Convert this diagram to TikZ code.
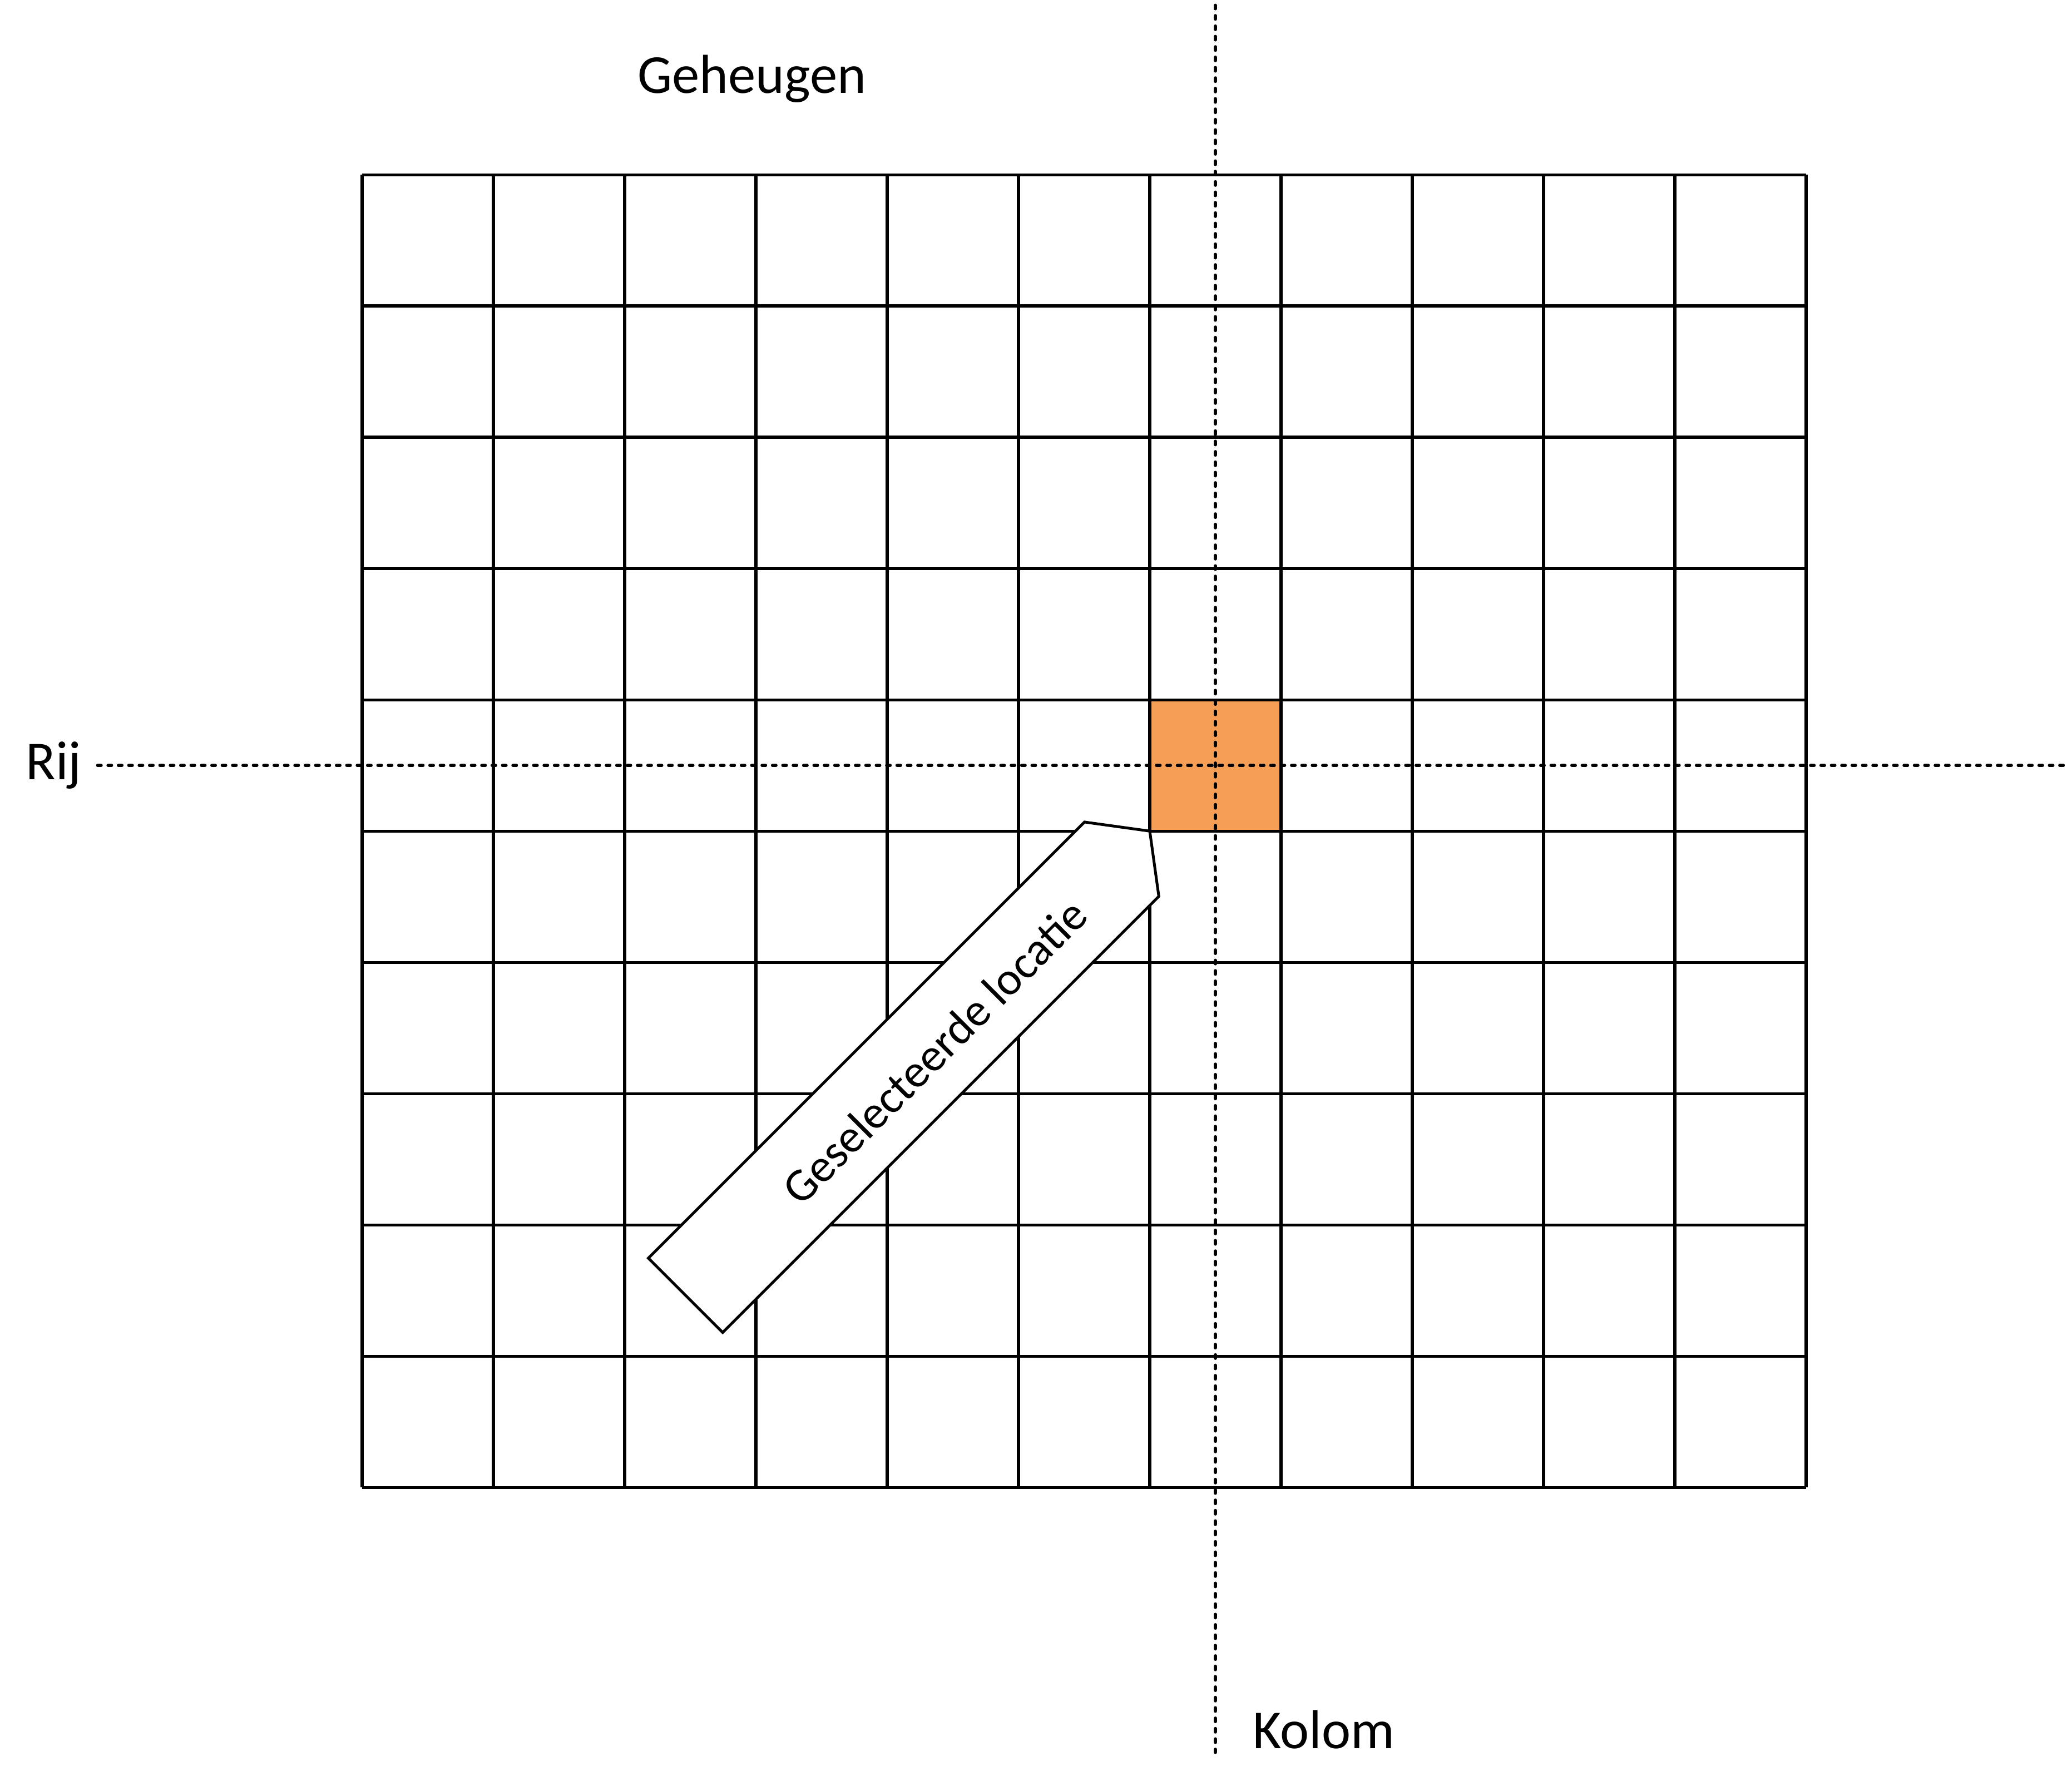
\documentclass[tikz,border=0pt]{standalone}
\usepackage{fontspec}
\setmainfont{Carlito}
\definecolor{selorange}{RGB}{245,158,86}
\tikzset{
	gridline/.style={line width=0.65pt},
	dotline/.style={line width=0.75pt, line cap=round, dash pattern=on 0.7pt off 1.55pt},
	lbl/.style={font=\fontsize{11.9}{14}\selectfont},
	pointer/.style={line width=0.6pt, fill=white, line join=miter}
}
\begin{document}
\begin{tikzpicture}
			\useasboundingbox (-2.758,-2.309) rectangle (13.025,11.331);

			% memory grid
			\fill[selorange] (6,5) rectangle (7,6);
			\draw[gridline] (0,0) grid (11,10);
			\node[lbl, anchor=base] (geheugen) at (2.97,10.62) {Geheugen}; %title

			% row line
			\node[lbl, anchor=east] (rij) at (-2.013,5.5) {Rij}; %label
			\coordinate (rijend) at (12.96,5.5);
			\draw[dotline] (rij.east) -- (rijend);

			% column line
			\coordinate (kolomtop) at (6.5,11.29);
			\coordinate (kolombot) at (6.5,-2.017);
			\draw[dotline] (kolomtop) -- (kolombot);
			\node[lbl, anchor=base west] (kolom) at (6.66,-1.99) {Kolom}; %label

			% pointer to selected cell
			\draw[pointer] (2.181,1.747) --
						(5.503,5.069) --
						(6.0,5.0) --
						(6.069,4.503) --
						(2.747,1.181) -- cycle;
			\node[rotate=45, font=\fontsize{10.1}{12}\selectfont] (locatie) at (4.36,3.32) {Geselecteerde locatie};
		\end{tikzpicture}
\end{document}
